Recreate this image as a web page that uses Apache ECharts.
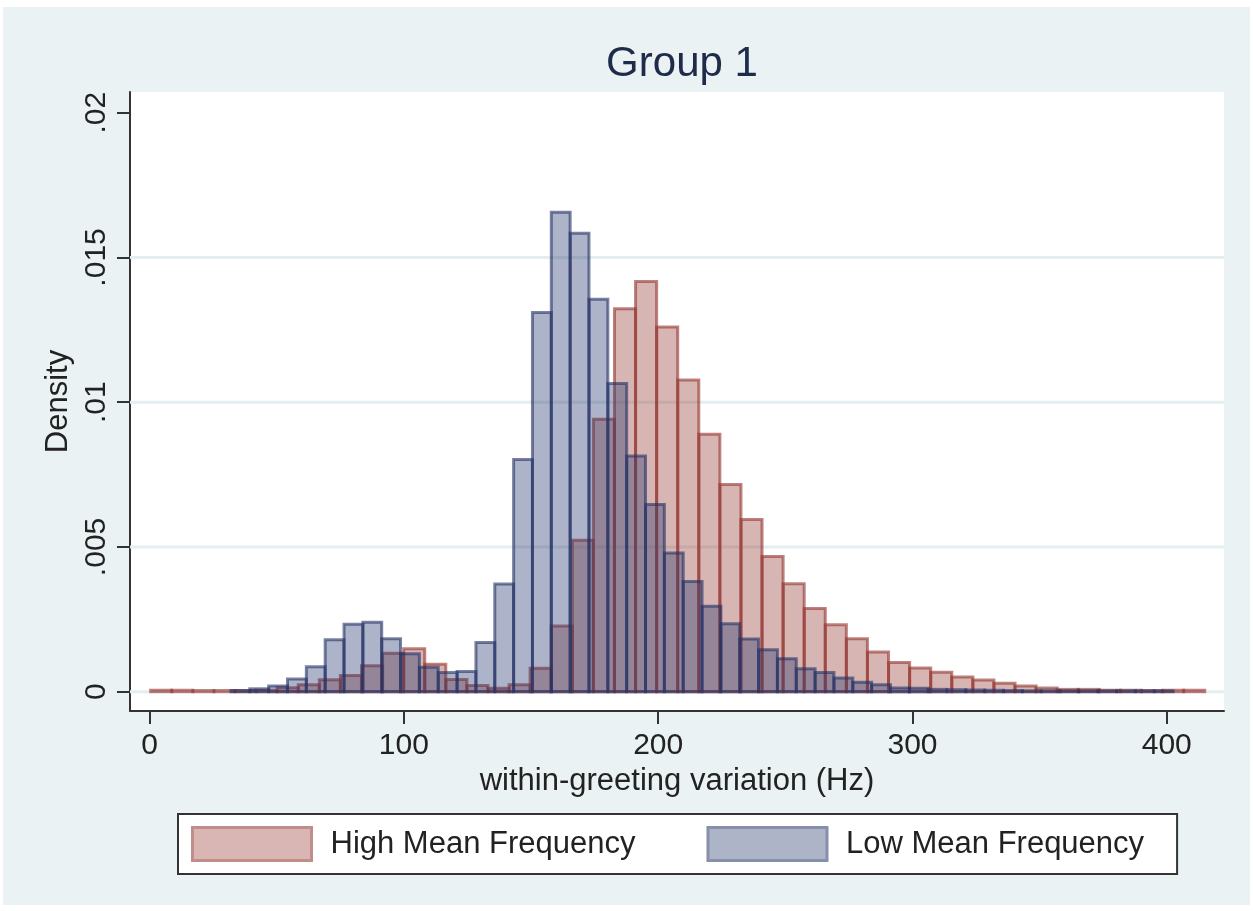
<!DOCTYPE html>
<html>
<head>
<meta charset="utf-8">
<title>Group 1</title>
<script src="https://cdn.jsdelivr.net/npm/echarts@6.0.0/dist/echarts.min.js"></script>
<style>
  html, body { margin: 0; padding: 0; background: #fff; }
  #chart {
    position: absolute;
    left: 3px;
    top: 7px;
    width: 1247px;
    height: 898px;
  }
</style>
</head>
<body>
<div id="chart"></div>
<script>
// histogram bins (Hz) and densities
const highStart = 0.43;
const highWidth = 8.29;
const highDensity = [
  0.00005, 0.00005, 0.00004, 0.00004, 0.00004, 0.00005, 0.00014, 0.00024, 0.00041, 0.00056,
  0.0009, 0.00133, 0.00148, 0.00095, 0.00042, 0.00021, 0.00012, 0.00024, 0.00081, 0.00227,
  0.00523, 0.00941, 0.01323, 0.01417, 0.0126, 0.01077, 0.00889, 0.00716, 0.00595, 0.00467,
  0.00373, 0.00287, 0.00231, 0.00183, 0.00137, 0.00101, 0.00082, 0.00067, 0.00051, 0.0004,
  0.00029, 0.0002, 0.00013, 0.00008, 0.00008, 0.00005, 0.00005, 0.00004, 0.00005, 0.00005
];

const lowStart = 32.0;
const lowWidth = 7.41;
const lowDensity = [
  0.00004, 0.0001, 0.0002, 0.00044, 0.00086, 0.00179, 0.00233, 0.0024, 0.00183, 0.00131,
  0.00084, 0.00066, 0.0007, 0.0017, 0.00372, 0.00802, 0.0131, 0.01656, 0.01584, 0.01356,
  0.01065, 0.00814, 0.00647, 0.00479, 0.00381, 0.00295, 0.00235, 0.00182, 0.00145, 0.00114,
  0.00079, 0.00066, 0.00047, 0.00033, 0.00024, 0.00013, 0.00012, 0.00008, 0.00007, 0.00006,
  0.00005, 0.00004, 0.00003, 0.00003, 0.00003, 0.00003, 0.00003, 0.00003, 0.00003, 0.00003
];

const xTicks = [0, 100, 200, 300, 400];
const yTicks = [0, 0.005, 0.01, 0.015, 0.02];
const yTickLabels = ['0', '.005', '.01', '.015', '.02'];
const gridValues = [0, 0.005, 0.01, 0.015];
const seriesNames = ['High Mean Frequency', 'Low Mean Frequency'];

const FONT = "'Liberation Sans', Arial, sans-serif";

function toBins(start, width, values) {
  return values.map((v, i) => [start + i * width, start + (i + 1) * width, v]);
}

function renderBar(fill, stroke) {
  return function (params, api) {
    const top = api.coord([api.value(0), api.value(2)]);
    const bottom = api.coord([api.value(1), 0]);
    return {
      type: 'rect',
      shape: {
        x: top[0],
        y: top[1],
        width: bottom[0] - top[0],
        height: bottom[1] - top[1]
      },
      style: { fill: fill, stroke: stroke, lineWidth: 3 }
    };
  };
}

// horizontal gridline across the whole plot area at a y value
function renderGridLine(params, api) {
  const y = api.coord([0, api.value(0)])[1];
  const cs = params.coordSys;
  return {
    type: 'line',
    shape: { x1: cs.x, y1: y, x2: cs.x + cs.width, y2: y },
    style: { stroke: '#E4EEF0', lineWidth: 3 }
  };
}

const chart = echarts.init(document.getElementById('chart'));

chart.setOption({
  backgroundColor: '#EAF2F3',
  animation: false,
  textStyle: { fontFamily: FONT },
  title: {
    text: 'Group 1',
    left: 674,
    top: 31,
    textAlign: 'center',
    textStyle: { fontFamily: FONT, fontSize: 42, fontWeight: 'normal', color: '#1f2b4b' }
  },
  grid: {
    left: 127,
    top: 85,
    width: 1094,
    height: 619,
    show: true,
    backgroundColor: '#ffffff',
    borderWidth: 0
  },
  legend: {
    left: 175,
    top: 807,
    orient: 'horizontal',
    selectedMode: false,
    backgroundColor: '#ffffff',
    borderColor: '#333333',
    borderWidth: 2,
    borderRadius: 0,
    padding: [12, 33, 12, 13],
    itemGap: 71,
    itemWidth: 119,
    itemHeight: 33,
    textStyle: { fontFamily: FONT, fontSize: 31, color: '#222', padding: [0, 0, 0, 14], lineHeight: 33 },
    data: [
      { name: seriesNames[0], icon: 'rect', itemStyle: { color: '#D9B5B3', borderColor: '#C28C88', borderWidth: 3 } },
      { name: seriesNames[1], icon: 'rect', itemStyle: { color: '#AEB4C8', borderColor: '#8690AA', borderWidth: 3 } }
    ]
  },
  xAxis: {
    type: 'value',
    min: -7.7,
    max: 422.5,
    name: 'within-greeting variation (Hz)',
    nameLocation: 'middle',
    nameGap: 53,
    nameTextStyle: { fontFamily: FONT, fontSize: 31, color: '#222' },
    axisLine: { onZero: false, lineStyle: { color: '#333', width: 2 } },
    axisTick: { show: true, length: 13, lineStyle: { color: '#333', width: 2 }, customValues: xTicks },
    axisLabel: { fontFamily: FONT, fontSize: 30, color: '#222', margin: 20, customValues: xTicks },
    splitLine: { show: false }
  },
  yAxis: {
    type: 'value',
    min: -0.000667,
    max: 0.020715,
    name: 'Density',
    nameLocation: 'middle',
    nameGap: 55,
    nameRotate: 90,
    nameTextStyle: { fontFamily: FONT, fontSize: 31, color: '#222' },
    axisLine: { show: true, onZero: false, lineStyle: { color: '#333', width: 2 } },
    axisTick: { show: true, length: 13, lineStyle: { color: '#333', width: 2 }, customValues: yTicks },
    axisLabel: {
      fontFamily: FONT,
      fontSize: 30,
      color: '#222',
      margin: 18,
      rotate: 90,
      customValues: yTicks,
      formatter: function (v) {
        const i = yTicks.findIndex(t => Math.abs(t - v) < 1e-9);
        return i >= 0 ? yTickLabels[i] : '';
      }
    },
    splitLine: { show: false }
  },
  series: [
    {
      type: 'custom',
      silent: true,
      z: 1,
      renderItem: renderGridLine,
      encode: { y: 0 },
      data: gridValues.map(v => [v])
    },
    {
      name: seriesNames[0],
      type: 'custom',
      z: 2,
      renderItem: renderBar('rgba(150, 60, 55, 0.38)', 'rgba(150, 55, 50, 0.62)'),
      encode: { x: [0, 1], y: 2 },
      data: toBins(highStart, highWidth, highDensity)
    },
    {
      name: seriesNames[1],
      type: 'custom',
      z: 3,
      renderItem: renderBar('rgba(40, 55, 110, 0.38)', 'rgba(35, 48, 100, 0.6)'),
      encode: { x: [0, 1], y: 2 },
      data: toBins(lowStart, lowWidth, lowDensity)
    }
  ]
});
</script>
</body>
</html>
